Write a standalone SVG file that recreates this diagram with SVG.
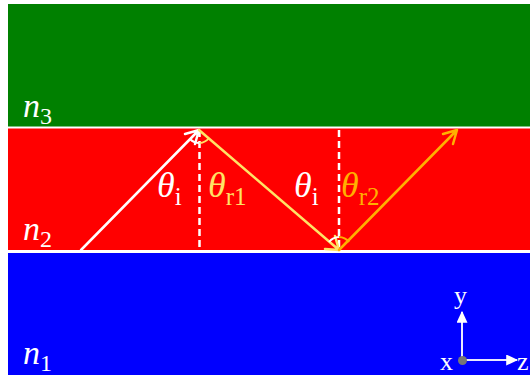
<svg xmlns="http://www.w3.org/2000/svg" width="530" height="375" viewBox="0 0 530 375">
<defs>
<style>
.lbl{font-family:"Liberation Serif","Times New Roman",serif;fill:#fff}
.it{font-style:italic}
.ray{stroke-width:2.5;fill:none;stroke-linecap:round;stroke-linejoin:round}
.arc{stroke-width:2;fill:none}
.ax{stroke:#e8e8ff;stroke-width:2;fill:none}
</style>
<marker id="tri" viewBox="0 0 10 10" refX="9" refY="5" markerWidth="12" markerHeight="11" markerUnits="userSpaceOnUse" orient="auto" preserveAspectRatio="none">
<path d="M0,0 L10,5 L0,10 Z" fill="#fff"/>
</marker>
</defs>
<rect width="530" height="375" fill="#fff"/>
<g id="layer-n3">
<rect x="8" y="4" width="522" height="122.5" fill="#008000"/>
<text class="lbl" x="23" y="117" font-size="34"><tspan class="it">n</tspan><tspan font-size="24" dy="7">3</tspan></text>
</g>
<g id="layer-n2">
<rect x="8" y="128.5" width="522" height="121.5" fill="#ff0000"/>
<text class="lbl" x="23" y="240" font-size="34"><tspan class="it">n</tspan><tspan font-size="24" dy="7">2</tspan></text>
</g>
<g id="layer-n1">
<rect x="8" y="253" width="522" height="122" fill="#0000ff"/>
<text class="lbl" x="23" y="364" font-size="34"><tspan class="it">n</tspan><tspan font-size="24" dy="7">1</tspan></text>
</g>
<g id="connectors">
<line x1="199.5" y1="130" x2="199.5" y2="250" stroke="#fff" stroke-width="2.5" stroke-dasharray="7,4"/>
<line x1="339" y1="130" x2="339" y2="250" stroke="#fff" stroke-width="2.5" stroke-dasharray="7,4"/>
<path class="ray" stroke="#fff" d="M81,250 L199,130 M185,134 L199,130 L195,144"/>
<path class="ray" stroke="#ffe366" d="M199,130 L339,250 M325,249 L339,250 L335,236"/>
<path class="ray" stroke="#ffb000" d="M339,250 L457,130 M443,134 L457,130 L453,144"/>
<path class="arc" stroke="#fff" d="M190,139 A13,13 0 0 0 199.5,143"/>
<path class="arc" stroke="#ffe366" d="M199.5,143 A13,13 0 0 0 209,138"/>
<path class="arc" stroke="#fff" d="M329,242 A13,13 0 0 1 339,237"/>
<path class="arc" stroke="#ffb000" d="M339,237 A13,13 0 0 1 349,242"/>
</g>
<g id="labels">
<text class="lbl" x="157" y="197" font-size="36"><tspan class="it">θ</tspan><tspan font-size="25" dy="8">i</tspan></text>
<text class="lbl" x="208" y="197" font-size="36" style="fill:#ffe366"><tspan class="it">θ</tspan><tspan font-size="25" dy="8">r1</tspan></text>
<text class="lbl" x="294" y="197" font-size="36"><tspan class="it">θ</tspan><tspan font-size="25" dy="8">i</tspan></text>
<text class="lbl" x="341" y="197" font-size="36" style="fill:#ffb000"><tspan class="it">θ</tspan><tspan font-size="25" dy="8">r2</tspan></text>
</g>
<g id="axes">
<line class="ax" x1="462" y1="360" x2="462" y2="312" marker-end="url(#tri)"/>
<line class="ax" x1="462" y1="360" x2="517" y2="360" marker-end="url(#tri)"/>
<circle cx="462.5" cy="360.5" r="4.5" fill="#777"/>
<text class="lbl" x="454" y="304" font-size="26">y</text>
<text class="lbl" x="440" y="370" font-size="26">x</text>
<text class="lbl" x="517" y="370" font-size="26">z</text>
</g>
</svg>
